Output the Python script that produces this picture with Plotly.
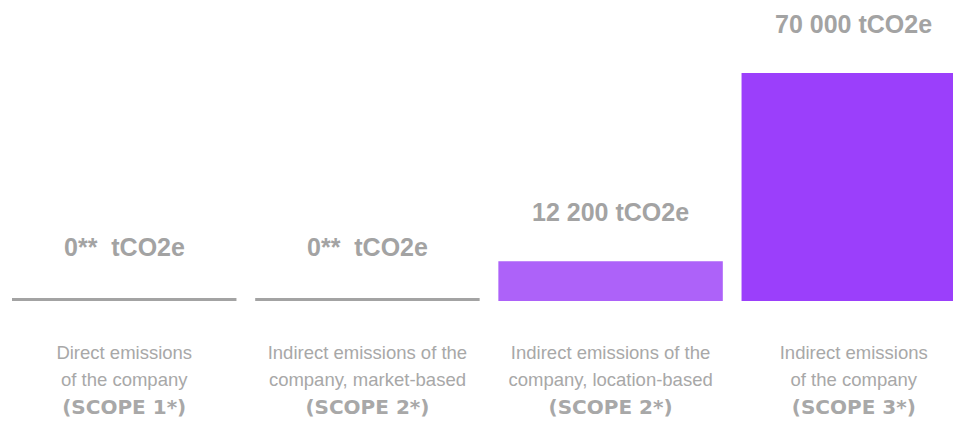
import plotly.graph_objects as go

categories = ["scope1", "scope2_market", "scope2_location", "scope3"]
values = [0, 0, 12200, 70000]
value_labels = ["0**\u00a0\u00a0tCO2e", "0**\u00a0\u00a0tCO2e", "12 200 tCO2e", "70 000 tCO2e"]
desc_line1 = ["Direct emissions", "Indirect emissions of the", "Indirect emissions of the", "Indirect emissions"]
desc_line2 = ["of the company", "company, market-based", "company, location-based", "of the company"]
scope_labels = ["(SCOPE 1*)", "(SCOPE 2*)", "(SCOPE 2*)", "(SCOPE 3*)"]

bar_colors = ["#a3a3a3", "#a3a3a3", "#ad62f9", "#9b3ffb"]
line_widths = [6 if v == 0 else 0 for v in values]
label_shift = [38 if v == 0 else 33 for v in values]

GRAY = "#a3a3a3"

ticktext = [
    f"<span style='font-size:18.5px'>{a}</span><br>"
    f"<span style='font-size:18.5px'>{b}</span><br>"
    f"<span style='font-family:DejaVu Sans;font-size:20px;font-weight:bold'>{c}</span>"
    for a, b, c in zip(desc_line1, desc_line2, scope_labels)
]

fig = go.Figure()
fig.add_trace(go.Bar(
    x=categories,
    y=values,
    marker=dict(color=bar_colors, line=dict(color=bar_colors, width=line_widths)),
    hoverinfo="skip",
))

for c, v, t, s in zip(categories, values, value_labels, label_shift):
    fig.add_annotation(
        x=c, y=v, text=f"<b>{t}</b>", showarrow=False,
        yanchor="bottom", yshift=s,
        font=dict(family="Liberation Sans, Arial", size=25, color=GRAY),
    )

fig.update_layout(
    width=961, height=421,
    margin=dict(l=0, r=8, t=0, b=128),
    paper_bgcolor="white", plot_bgcolor="white",
    bargap=0.077,
    showlegend=False,
    xaxis=dict(
        range=[-0.478, 3.441],
        tickvals=categories, ticktext=ticktext,
        tickfont=dict(family="Liberation Sans, Arial", size=21, color="#a8a8a8"),
        showgrid=False, zeroline=False, showline=False, ticks="",
        ticklabelstandoff=36,
    ),
    yaxis=dict(
        range=[0, 89960], visible=False, showgrid=False, zeroline=False,
    ),
)

fig.write_html("out.html")
